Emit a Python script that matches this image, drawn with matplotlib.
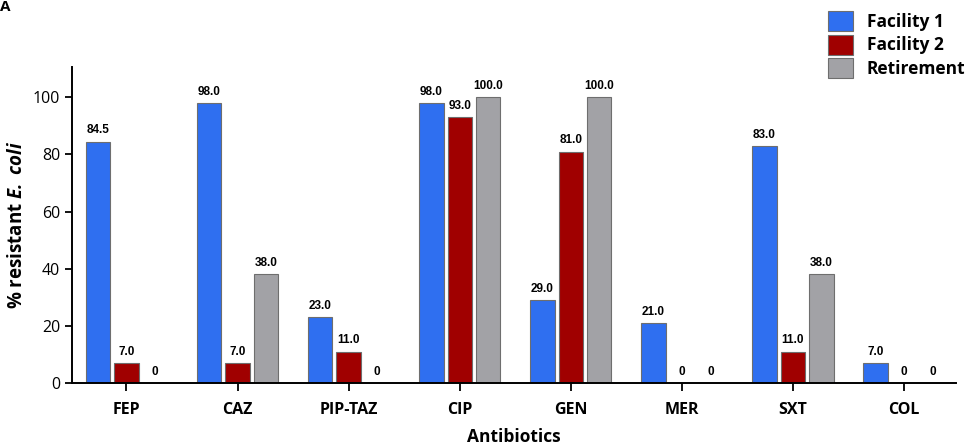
import numpy as np
import matplotlib
matplotlib.use("Agg")
import matplotlib.pyplot as plt

plt.rcParams['font.family'] = ['Open Sans', 'DejaVu Sans']
plt.rcParams['mathtext.fontset'] = 'custom'
plt.rcParams['mathtext.bfit'] = 'Open Sans:bold:italic'
plt.rcParams['mathtext.bf'] = 'Open Sans:bold'
plt.rcParams['mathtext.rm'] = 'Open Sans:bold'

# donnees
antibiotics = ['FEP', 'CAZ', 'PIP-TAZ', 'CIP', 'GEN', 'MER', 'SXT', 'COL']
facility1 = [84.5, 98.0, 23.0, 98.0, 29.0, 21.0, 83.0, 7.0]
facility2 = [7.0, 7.0, 11.0, 93.0, 81.0, 0, 11.0, 0]
retirement = [0, 38.0, 0, 100.0, 100.0, 0, 38.0, 0]
series_names = ['Facility 1', 'Facility 2', 'Retirement']
colors = ['#2F6FF0', '#A00000', '#A2A2A6']

fig = plt.figure(figsize=(9.76, 4.48), dpi=100)
ax = fig.add_axes([0.0738, 0.145, 0.906, 0.705])

x = np.arange(len(antibiotics))
w = 0.22
step = 0.256
for i, (vals, name, c) in enumerate(zip([facility1, facility2, retirement], series_names, colors)):
    bars = ax.bar(x + (i - 1) * step, vals, width=w, color=c, edgecolor='#6e6e6e',
                  linewidth=0.8, label=name)
    for b, v in zip(bars, vals):
        txt = '0' if v == 0 else f'{v:.1f}'
        ax.text(b.get_x() + b.get_width() / 2, v + 1.8, txt, ha='center', va='bottom',
                fontsize=8.5, fontweight='bold', family='Liberation Sans')

ax.set_xlim(-0.49, 7.47)
ax.set_ylim(0, 110.5)
ax.set_yticks([0, 20, 40, 60, 80, 100])
ax.set_xticks(x)
ax.set_xticklabels(antibiotics, fontweight='bold', fontsize=11.5)
ax.tick_params(axis='y', labelsize=11.5, length=5, width=1.3)
ax.tick_params(axis='x', length=6, width=1.3, pad=8)
ax.spines['top'].set_visible(False)
ax.spines['right'].set_visible(False)
ax.spines['left'].set_linewidth(1.4)
ax.spines['bottom'].set_linewidth(1.4)

ax.set_ylabel(r'% resistant $\mathbfit{E.}$ $\mathbfit{coli}$', fontsize=13.5, fontweight='bold', labelpad=4)
ax.set_xlabel('Antibiotics', fontsize=12.5, fontweight='bold', labelpad=7)

leg = fig.legend(loc='upper right', bbox_to_anchor=(1.005, 1.01), frameon=False,
                 prop={'weight': 'bold', 'size': 12.5}, handlelength=1.4, handleheight=1.4,
                 labelspacing=0.2, handletextpad=0.8)

fig.text(0.0, 0.984, 'A', fontsize=11, fontweight='bold', va='center')

fig.savefig('out.png', dpi=100)
